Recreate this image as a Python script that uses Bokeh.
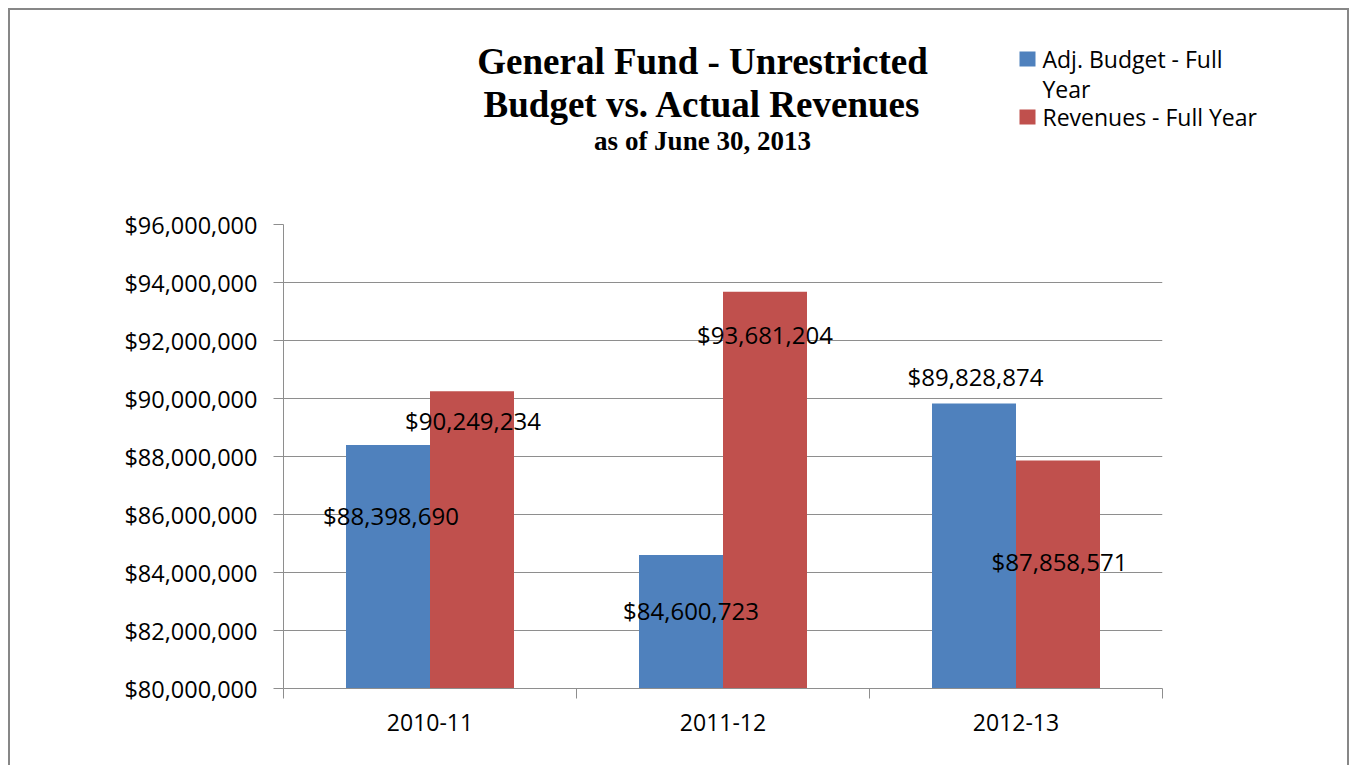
from bokeh.plotting import figure
from bokeh.models import (Range1d, FixedTicker, NumeralTickFormatter, ColumnDataSource,
                          LabelSet, Label)
from bokeh.core.properties import value
from bokeh.transform import dodge
from bokeh.embed import file_html
from bokeh.resources import INLINE

# ---- data ----
categories = ["2010-11", "2011-12", "2012-13"]
series_names = ["Adj. Budget - Full Year", "Revenues - Full Year"]
budget = [88398690, 84600723, 89828874]
revenues = [90249234, 93681204, 87858571]
y_ticks = [80000000, 82000000, 84000000, 86000000, 88000000, 90000000, 92000000, 94000000, 96000000]
title_lines = ["General Fund - Unrestricted", "Budget vs. Actual Revenues", "as of June 30, 2013"]

# label offsets in screen px (style, not data)
budget_label_dx = [3, 10, 1.5]
budget_label_dy = [-71, -55, 27]
revenue_label_dx = [1, 0, 1.5]
revenue_label_dy = [-29, -43, -101]

BLUE = "#4F81BD"
RED = "#C0504D"
GRID = "#8E8E8E"
BORDER = "#878787"
TEXT = "#000000"
FONT = "Open Sans"

W = 1341
H = 757
HEAD_H = 200

# ---------- main chart ----------
p = figure(width=W, height=H, output_backend="svg", toolbar_location=None,
           x_range=Range1d(0, len(categories)), y_range=Range1d(y_ticks[0], y_ticks[-1]),
           min_border_left=273, min_border_right=189, min_border_top=214, min_border_bottom=79)
p.styles = {"margin-left": "8px", "margin-top": "8px",
            "border-top": f"2px solid {BORDER}",
            "border-left": f"2px solid {BORDER}",
            "border-right": f"2px solid {BORDER}"}
p.outline_line_color = None
p.background_fill_color = "white"
p.border_fill_color = "white"

centers = [i + 0.5 for i in range(len(categories))]
bar_w = 84 / 293.0
src = ColumnDataSource(dict(x=centers, cat=categories, budget=budget, revenues=revenues,
                            blab=[f"${v:,.0f}" for v in budget],
                            rlab=[f"${v:,.0f}" for v in revenues],
                            bdx=budget_label_dx, bdy=budget_label_dy,
                            rdx=revenue_label_dx, rdy=revenue_label_dy))

rb = p.vbar(x=dodge("x", -bar_w / 2), top="budget", bottom=y_ticks[0], width=bar_w,
            source=src, fill_color=BLUE, line_color=None)
rr = p.vbar(x=dodge("x", bar_w / 2), top="revenues", bottom=y_ticks[0], width=bar_w,
            source=src, fill_color=RED, line_color=None)

for col, lab, dx, dy, off in [("budget", "blab", "bdx", "bdy", -bar_w / 2),
                              ("revenues", "rlab", "rdx", "rdy", bar_w / 2)]:
    ls = LabelSet(x=dodge("x", off), y=col, text=lab, x_offset=dx, y_offset=dy, source=src,
                  text_align="center", text_baseline="middle", text_font=value(FONT),
                  text_font_size=value("24px"), text_color=TEXT)
    p.add_layout(ls)

p.xgrid.visible = False
p.ygrid.grid_line_color = GRID
p.ygrid.ticker = FixedTicker(ticks=y_ticks)

yax = p.yaxis[0]
yax.ticker = FixedTicker(ticks=y_ticks)
yax.formatter = NumeralTickFormatter(format="$0,0")
yax.axis_line_color = GRID
yax.major_tick_line_color = GRID
yax.major_tick_out = 10
yax.major_tick_in = 0
yax.minor_tick_line_color = None
yax.major_label_text_font = FONT
yax.major_label_text_font_size = "23.5px"
yax.major_label_text_color = TEXT
yax.major_label_standoff = 16

xax = p.xaxis[0]
xax.ticker = FixedTicker(ticks=centers, minor_ticks=list(range(len(categories) + 1)))
xax.major_label_overrides = {c: n for c, n in zip(centers, categories)}
xax.axis_line_color = GRID
xax.major_tick_line_color = None
xax.major_tick_out = 0
xax.major_tick_in = 0
xax.minor_tick_line_color = GRID
xax.minor_tick_out = 10
xax.minor_tick_in = 0
xax.major_label_text_font = FONT
xax.major_label_text_font_size = "23px"
xax.major_label_text_color = TEXT
xax.major_label_standoff = 15

# ---------- header (title + legend), overlaid on the chart's top border area ----------
head = figure(width=W, height=HEAD_H, output_backend="svg", toolbar_location=None,
              x_range=Range1d(0, W), y_range=Range1d(HEAD_H, 0),
              x_axis_type=None, y_axis_type=None, min_border=0)
head.styles = {"position": "absolute", "left": "10px", "top": "10px"}
head.outline_line_color = None
head.background_fill_alpha = 0
head.border_fill_alpha = 0

for txt, cy, size in zip(title_lines, [51, 94, 130], ["37px", "37px", "27px"]):
    head.add_layout(Label(x=692, y=cy, text=txt, text_align="center", text_baseline="middle",
                          text_font="Liberation Serif", text_font_style="bold",
                          text_font_size=size, text_color="#000000"))

head.rect(x=[1017, 1017], y=[48.5, 106.5], width=16, height=15,
          fill_color=[BLUE, RED], line_color=None)
legend_texts = [("Adj. Budget - Full", 48), ("Year", 78), (series_names[1], 106)]
for txt, cy in legend_texts:
    head.add_layout(Label(x=1032, y=cy, text=txt, text_align="left", text_baseline="middle",
                          text_font=FONT, text_font_size="23px", text_color=TEXT))

open("out.html", "w").write(file_html([p, head], INLINE))
